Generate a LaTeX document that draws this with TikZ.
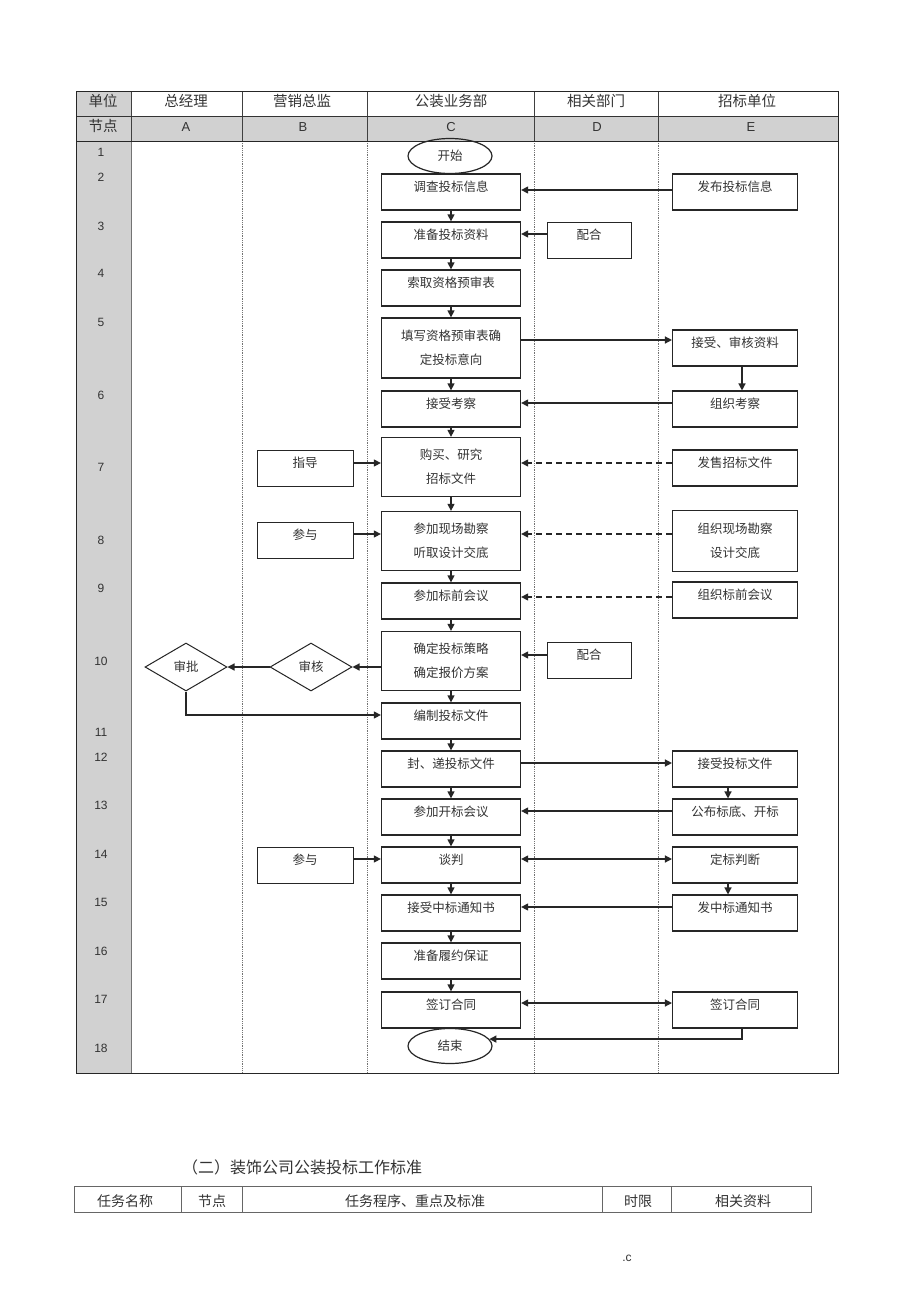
\documentclass[tikz,border=0pt]{standalone}
\usepackage{fontspec}
\setmainfont{Liberation Sans}
\newfontfamily\cjk{Noto Sans CJK SC}
\usetikzlibrary{arrows.meta,shapes.geometric}

\begin{document}
\begin{tikzpicture}[x=1pt,y=-1pt,
  txt/.style={text=black!80,inner sep=0pt},
  zh/.style={txt,font=\cjk\fontsize{12.5}{24}\selectfont},
  one/.style={zh,draw=black!85,text height=17pt,text depth=19pt},
  two/.style={zh,draw=black!85,minimum height=59pt,align=center},
  cw/.style={minimum width=139pt,line width=1.3pt},
  ew/.style={minimum width=125pt,line width=1.1pt},
  bw/.style={minimum width=96pt,line width=0.8pt},
  dw/.style={minimum width=84pt,line width=0.8pt},
  oval/.style={zh,ellipse,draw=black!85,line width=1.2pt,minimum width=84pt,minimum height=35pt},
  dmd/.style={zh,diamond,draw=black!85,line width=1pt,minimum width=82pt,minimum height=48pt},
  arr/.style={draw=black!85,line width=1.3pt,-{Triangle[length=7pt,width=7pt]}},
  both/.style={arr,{Triangle[length=7pt,width=7pt]}-{Triangle[length=7pt,width=7pt]}},
  dsh/.style={arr,dash pattern=on 6pt off 4pt},
  head/.style={txt,font=\cjk\fontsize{14.5}{16}\selectfont},
  lat/.style={txt,font=\fontsize{13}{15}\selectfont},
  num/.style={txt,font=\fontsize{12}{14}\selectfont}]
\useasboundingbox[fill=white] (0,0) rectangle (920,1303);

\fill[black!18] (76,92) rectangle (131,1073);
\fill[black!18] (131,116) rectangle (838,141);
\foreach \x in {131,242,367,534,658} \draw[black!75,line width=0.8pt] (\x,92) -- (\x,141);
\draw[black!55,line width=0.9pt] (131,141) -- (131,1073);
\foreach \x in {242,367,534,658} \draw[black!55,line width=0.8pt,densely dotted] (\x,141) -- (\x,1073);
\draw[black!80,line width=0.8pt] (76,116) -- (838,116);
\draw[black!85,line width=1pt] (76,141) -- (838,141);
\draw[black!85,line width=1pt] (76,92) rectangle (838,1073);

\node[head] (h0) at (103,101) {单位};
\node[head] (h1) at (186,101) {总经理};
\node[head] (h2) at (302,101) {营销总监};
\node[head] (h3) at (451,101) {公装业务部};
\node[head] (h4) at (596,101) {相关部门};
\node[head] (h5) at (747,101) {招标单位};
\node[head] (g0) at (103,126) {节点};
\node[lat] (g1) at (186,127) {A};
\node[lat] (g2) at (303,127) {B};
\node[lat] (g3) at (451,127) {C};
\node[lat] (g4) at (597,127) {D};
\node[lat] (g5) at (751,127) {E};

\foreach \n/\y in {1/152,2/177,3/226,4/273,5/322,6/395,7/467,8/540,9/588,10/661,11/732,12/757,13/805,14/854,15/902,16/951,17/999,18/1048}
  \node[num] (n\n) at (101,\y) {\n};

\node[oval] (c1) at (450,156) {开始};
\node[one,cw] (c2) at (451,192) {调查投标信息};
\node[one,cw] (c3) at (451,240) {准备投标资料};
\node[one,cw] (c4) at (451,288) {索取资格预审表};
\node[two,cw,minimum height=60pt] (c5) at (451,348) {填写资格预审表确\\定投标意向};
\node[one,cw] (c6) at (451,409) {接受考察};
\node[two,cw] (c7) at (451,467) {购买、研究\\招标文件};
\node[two,cw] (c8) at (451,541) {参加现场勘察\\听取设计交底};
\node[one,cw] (c9) at (451,601) {参加标前会议};
\node[two,cw] (c10) at (451,661) {确定投标策略\\确定报价方案};
\node[one,cw] (c11) at (451,721) {编制投标文件};
\node[one,cw] (c12) at (451,769) {封、递投标文件};
\node[one,cw] (c13) at (451,817) {参加开标会议};
\node[one,cw] (c14) at (451,865) {谈判};
\node[one,cw] (c15) at (451,913) {接受中标通知书};
\node[one,cw] (c16) at (451,961) {准备履约保证};
\node[one,cw] (c17) at (451,1010) {签订合同};
\node[oval] (c18) at (450,1046) {结束};

\node[one,ew] (e1) at (735,192) {发布投标信息};
\node[one,ew] (e2) at (735,348) {接受、审核资料};
\node[one,ew] (e3) at (735,409) {组织考察};
\node[one,ew] (e4) at (735,468) {发售招标文件};
\node[two,ew,minimum height=61pt] (e5) at (735,541) {组织现场勘察\\设计交底};
\node[one,ew] (e6) at (735,600) {组织标前会议};
\node[one,ew] (e7) at (735,769) {接受投标文件};
\node[one,ew] (e8) at (735,817) {公布标底、开标};
\node[one,ew] (e9) at (735,865) {定标判断};
\node[one,ew] (e10) at (735,913) {发中标通知书};
\node[one,ew] (e11) at (735,1010) {签订合同};

\node[one,dw] (d1) at (589,240) {配合};
\node[one,dw] (d2) at (589,660) {配合};
\node[one,bw] (b1) at (305,468) {指导};
\node[one,bw] (b2) at (305,540) {参与};
\node[one,bw] (b3) at (305,865) {参与};
\node[dmd] (sh) at (311,667) {审核};
\node[dmd] (sp) at (186,667) {审批};

\foreach \i/\j in {c2/c3,c3/c4,c4/c5,c5/c6,c6/c7,c7/c8,c8/c9,c9/c10,c10/c11,c11/c12,c12/c13,c13/c14,c14/c15,c15/c16,c16/c17}
  \draw[arr] (\i) to (\j);

\draw[arr] ([yshift=2pt]e1.west) to ([yshift=2pt]c2.east);
\draw[arr] ([yshift=6pt]d1.west) to ([yshift=6pt]c3.east);
\draw[arr] ([yshift=8pt]c5.east) to ([yshift=8pt]e2.west);
\draw[arr] ([xshift=7pt]e2.south) to ([xshift=7pt]e3.north);
\draw[arr] ([yshift=6pt]e3.west) to ([yshift=6pt]c6.east);
\draw[dsh] ([yshift=5pt]e4.west) to ([yshift=4pt]c7.east);
\draw[arr] ([yshift=5pt]b1.east) to ([yshift=4pt]c7.west);
\draw[arr] ([yshift=6pt]b2.east) to ([yshift=7pt]c8.west);
\draw[dsh] ([yshift=7pt]e5.west) to ([yshift=7pt]c8.east);
\draw[dsh] ([yshift=3pt]e6.west) to ([yshift=4pt]c9.east);
\draw[arr] ([yshift=5pt]d2.west) to ([yshift=6pt]c10.east);
\draw[arr] ([yshift=-6pt]c10.west) to (sh.east);
\draw[arr] (sh.west) to (sp.east);
\draw[arr] (sp.south) |- ([yshift=6pt]c11.west);
\draw[arr] ([yshift=6pt]c12.east) to ([yshift=6pt]e7.west);
\draw[arr] ([xshift=-7pt]e7.south) to ([xshift=-7pt]e8.north);
\draw[arr] ([yshift=6pt]e8.west) to ([yshift=6pt]c13.east);
\draw[both] ([yshift=6pt]c14.east) to ([yshift=6pt]e9.west);
\draw[arr] ([yshift=6pt]b3.east) to ([yshift=6pt]c14.west);
\draw[arr] ([xshift=-7pt]e9.south) to ([xshift=-7pt]e10.north);
\draw[arr] ([yshift=6pt]e10.west) to ([yshift=6pt]c15.east);
\draw[both] ([yshift=7pt]c17.east) to ([yshift=7pt]e11.west);
\draw[arr] ([xshift=7pt]e11.south) |- (c18.10);

\node[txt,font=\cjk\fontsize{16}{18}\selectfont] (t) at (302,1167) {（二）装饰公司公装投标工作标准};
\draw[black!60,line width=0.8pt] (74,1186) rectangle (811,1212);
\foreach \x in {181,242,602,671} \draw[black!60,line width=0.8pt] (\x,1186) -- (\x,1212);
\node[head,font=\cjk\fontsize{14}{16}\selectfont] (k1) at (125,1201) {任务名称};
\node[head,font=\cjk\fontsize{14}{16}\selectfont] (k2) at (212,1201) {节点};
\node[head,font=\cjk\fontsize{14}{16}\selectfont] (k3) at (415,1201) {任务程序、重点及标准};
\node[head,font=\cjk\fontsize{14}{16}\selectfont] (k4) at (638,1201) {时限};
\node[head,font=\cjk\fontsize{14}{16}\selectfont] (k5) at (743,1201) {相关资料};
\node[num] (pc) at (627,1258) {.c};
\end{tikzpicture}
\end{document}
